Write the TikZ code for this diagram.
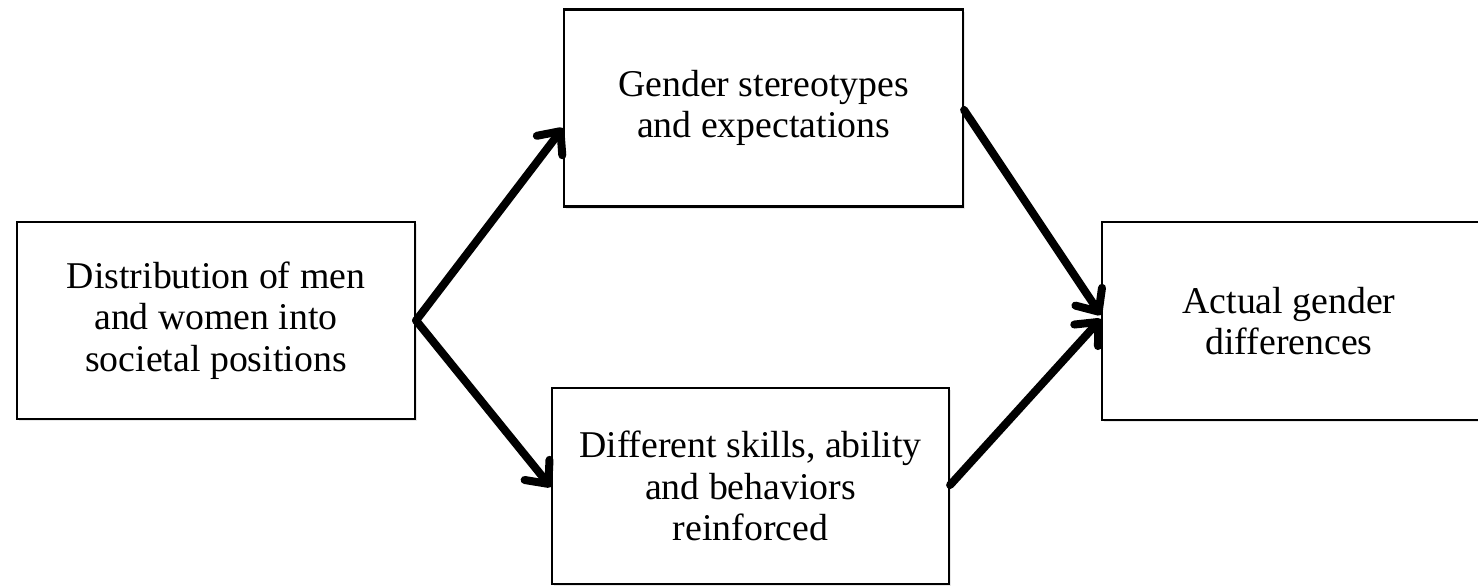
\documentclass[tikz,border=0pt]{standalone}
\usepackage{fontspec}
\setmainfont{Liberation Serif}
\usetikzlibrary{arrows.meta,shadows}
\begin{document}
\begin{tikzpicture}[x=0.5pt,y=-0.5pt,
  txt/.style={align=center, font=\fontsize{18.9pt}{20.7pt}\selectfont, inner sep=0pt},
  box/.style={txt, draw=black, line width=1.1pt, fill=white,
    drop shadow={opacity=0.18, shadow xshift=1.2pt, shadow yshift=-1.2pt}},
  conn/.style={line width=4pt, line cap=round, line join=round,
    -{Straight Barb[round, length=9pt, width=16pt]}}]
\useasboundingbox (0,0) rectangle (1478,586);
\node[box, minimum width=199pt, minimum height=98.5pt] (dist) at (216,320.5)
  {Distribution of men\\and women into\\societal positions};
\node[box, minimum width=199.5pt, minimum height=98.5pt] (stereo) at (763.5,108)
  {Gender stereotypes\\and expectations};
\node[box, minimum width=198.5pt, minimum height=98pt] (skills) at (750.5,486)
  {Different skills, ability\\and behaviors\\reinforced};
\node[box, minimum width=200pt, minimum height=99pt] (actual) at (1302,321) {};
\node[txt] (actualtext) at (1289,321) {Actual gender\\differences};
\draw[conn] (dist.east) -- ([yshift=-10pt]stereo.west);
\draw[conn] (dist.east) -- ([yshift=-0.5pt]skills.west);
\draw[conn] ([yshift=-1pt]stereo.east) -- ([yshift=3pt]actual.west);
\draw[conn] ([yshift=0.5pt]skills.east) -- ([yshift=1pt]actual.west);
\end{tikzpicture}
\end{document}
